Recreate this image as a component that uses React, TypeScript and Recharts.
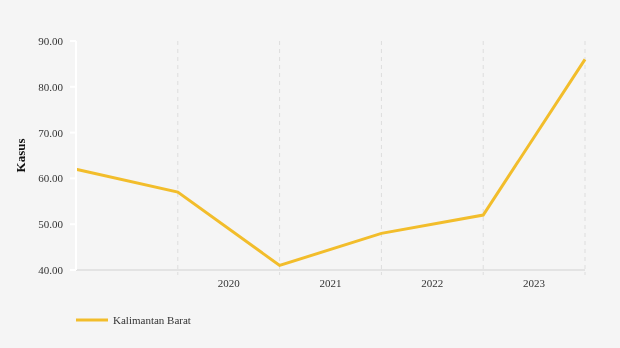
import React from 'react';
import { LineChart, Line, XAxis, YAxis, CartesianGrid, Legend } from 'recharts';

const positions = [0, 1, 2, 3, 4, 5];
const values = [62, 57, 41, 48, 52, 86];
const yearLabels = ['2020', '2021', '2022', '2023'];
const yTicks = [40, 50, 60, 70, 80, 90];
const seriesName = 'Kalimantan Barat';

const data = positions.map((p, i) => ({ i: p, v: values[i] }));

const FONT = '"Liberation Serif", "Times New Roman", serif';
const COLOR = '#f2bd2b';

const XTick = (props: any) => {
  const { x, y, payload, width } = props;
  const idx = payload.value - 1;
  if (idx < 0 || idx >= yearLabels.length) return null;
  const step = (width || 509) / 5;
  return (
    <text x={x + step / 2} y={y} dy={10} textAnchor="middle" fontSize={11} fill="#333" fontFamily={FONT}>
      {yearLabels[idx]}
    </text>
  );
};

const LegendContent = () => (
  <div style={{ display: 'flex', alignItems: 'center', fontFamily: FONT, fontSize: 11, color: '#333', height: 20 }}>
    <svg width={32} height={6} style={{ marginRight: 5 }}>
      <line x1={0} y1={3} x2={32} y2={3} stroke={COLOR} strokeWidth={3} />
    </svg>
    <span>{seriesName}</span>
  </div>
);

export default function App() {
  return (
    <>
      <div style={{ position: 'fixed', left: 0, top: 0, right: 0, bottom: 0, background: '#f5f5f5', zIndex: -1 }} />
      <div style={{ width: 612, height: 340, position: 'relative' }}>
        <LineChart width={612} height={340} data={data} margin={{ top: 33, right: 35, left: 0, bottom: 28 }}>
          <CartesianGrid vertical horizontal={false} stroke="#dddddd" strokeDasharray="4 4" />
          <XAxis
            dataKey="i"
            type="number"
            domain={[0, 5]}
            ticks={[1, 2, 3, 4, 5]}
            axisLine={{ stroke: '#e3e3e3', strokeWidth: 2 }}
            tickLine={{ stroke: '#dddddd', strokeDasharray: '3 2' }}
            tickSize={5}
            tick={<XTick />}
            height={30}
          />
          <YAxis
            domain={[40, 90]}
            ticks={yTicks}
            tickFormatter={(v: number) => v.toFixed(2)}
            axisLine={{ stroke: '#ffffff', strokeWidth: 2 }}
            tickLine={{ stroke: '#ffffff', strokeWidth: 2 }}
            tickSize={6}
            tickMargin={7}
            width={68}
            tick={{ fontSize: 11, fill: '#333', fontFamily: FONT }}
            label={{ value: 'Kasus', angle: -90, position: 'insideLeft', offset: 12, style: { textAnchor: 'middle', fontFamily: FONT, fontSize: 13, fontWeight: 'bold', fill: '#111' } }}
          />
          <Legend content={<LegendContent />} wrapperStyle={{ top: 302, left: 68, width: 300 }} />
          <Line type="linear" dataKey="v" name={seriesName} stroke={COLOR} strokeWidth={3} dot={false} isAnimationActive={false} />
        </LineChart>
      </div>
    </>
  );
}
